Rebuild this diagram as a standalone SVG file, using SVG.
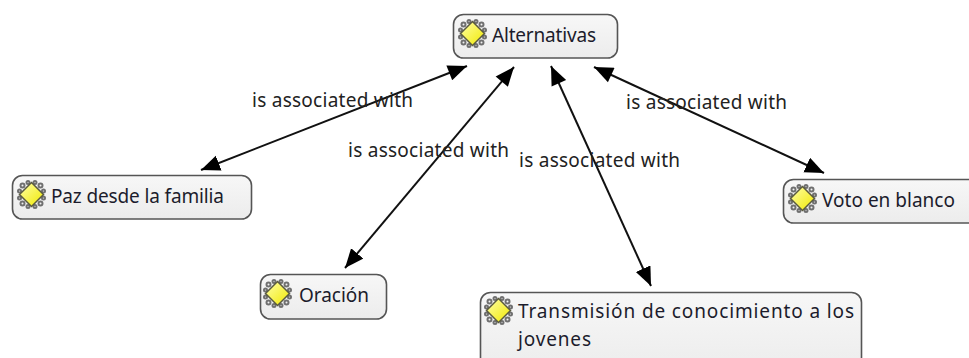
<svg xmlns="http://www.w3.org/2000/svg" width="969" height="358" viewBox="0 0 969 358">
<style>
text{font-family:"Noto Sans","Open Sans","DejaVu Sans",sans-serif;font-size:19px;fill:#1c1c2c}
.box{fill:url(#g);stroke:#555;stroke-width:1.6}
.c{stroke:#111;stroke-width:2;fill:none;marker-start:url(#as);marker-end:url(#ae)}
.lab{fill:#222}
</style>
<defs>
<linearGradient id="g" x1="0" y1="0" x2="0" y2="1"><stop offset="0" stop-color="#f7f7f7"/><stop offset="1" stop-color="#ececec"/></linearGradient>
<linearGradient id="y" x1="0" y1="0" x2="1" y2="1"><stop offset="0" stop-color="#ffffa8"/><stop offset="1" stop-color="#f0e800"/></linearGradient>
<marker id="ae" markerUnits="userSpaceOnUse" markerWidth="22" markerHeight="18" refX="19" refY="8" orient="auto"><path d="M0 0L19 8L0 16Z" fill="#000"/></marker>
<marker id="as" markerUnits="userSpaceOnUse" markerWidth="22" markerHeight="18" refX="0" refY="8" orient="auto"><path d="M19 0L0 8L19 16Z" fill="#000"/></marker>
<g id="icon">
<g fill="none" stroke="#707070" stroke-width="2"><circle cx="5.500" cy="5.500" r="2"/><circle cx="11" cy="2.500" r="1.500"/><circle cx="18" cy="2.500" r="1.500"/><circle cx="23.500" cy="5.500" r="2"/><circle cx="5.500" cy="23.500" r="2"/><circle cx="23.500" cy="23.500" r="2"/><circle cx="2.500" cy="11" r="1.500"/><circle cx="26.500" cy="11" r="1.500"/><circle cx="2.500" cy="18" r="1.500"/><circle cx="26.500" cy="18" r="1.500"/><circle cx="11" cy="26.500" r="1.500"/><circle cx="18" cy="26.500" r="1.500"/></g>
<path d="M14.500 2.500L26.500 14.500L14.500 26.500L2.500 14.500Z" fill="url(#y)" stroke="#5a5a40" stroke-width="1.500"/>
</g>
</defs>
<g id="connectors">
<line class="c" x1="467" y1="66" x2="201" y2="170"/>
<line class="c" x1="514" y1="67" x2="345" y2="268"/>
<line class="c" x1="551" y1="66" x2="651" y2="286"/>
<line class="c" x1="594" y1="67" x2="824" y2="173"/>
<text class="lab" x="252" y="107" textLength="161">is associated with</text>
<text class="lab" x="348" y="157" textLength="161">is associated with</text>
<text class="lab" x="519" y="167" textLength="161">is associated with</text>
<text class="lab" x="626" y="109" textLength="161">is associated with</text>
</g>
<g id="node-alternativas"><rect class="box" x="453.500" y="14.500" width="164" height="43.500" rx="10"/><use href="#icon" x="458" y="19"/><text x="492" y="42" textLength="104">Alternativas</text></g>
<g id="node-paz"><rect class="box" x="12.500" y="175.500" width="239" height="43.500" rx="10"/><use href="#icon" x="17" y="180"/><text x="51" y="203" textLength="173">Paz desde la familia</text></g>
<g id="node-oracion"><rect class="box" x="260.500" y="274.500" width="126" height="44.500" rx="10"/><use href="#icon" x="263" y="279"/><text x="299" y="302" textLength="70">Oración</text></g>
<g id="node-transmision"><rect class="box" x="480.500" y="292.500" width="381" height="80" rx="10"/><use href="#icon" x="484" y="296"/><text x="518" y="318" textLength="336">Transmisión de conocimiento a los</text><text x="518" y="346" textLength="73">jovenes</text></g>
<g id="node-voto"><rect class="box" x="783.500" y="179.500" width="200" height="43.500" rx="10"/><use href="#icon" x="788" y="184"/><text x="822" y="207" textLength="133">Voto en blanco</text></g>
</svg>
